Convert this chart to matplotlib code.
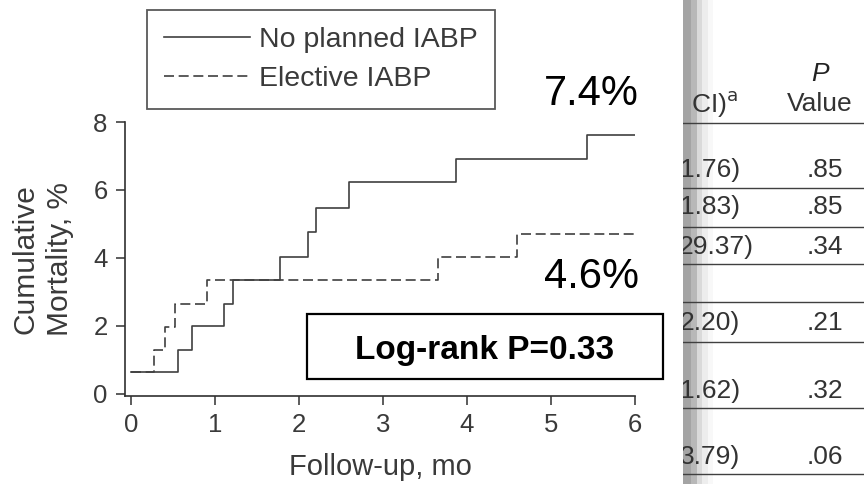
import matplotlib
matplotlib.use('Agg')
import matplotlib.pyplot as plt
from matplotlib.patches import Rectangle

plt.rcParams['font.family'] = ['Liberation Sans', 'DejaVu Sans']

# Kaplan-Meier style steps (months, cumulative mortality %)
no_iabp_t = [0, 0.56, 0.73, 1.11, 1.22, 1.77, 2.11, 2.20, 2.60, 3.87, 5.43, 6.0]
no_iabp_y = [0.64, 1.29, 2.00, 2.65, 3.35, 4.04, 4.76, 5.46, 6.23, 6.90, 7.62, 7.62]
elective_t = [0, 0.28, 0.41, 0.52, 0.91, 3.65, 4.59, 6.0]
elective_y = [0.64, 1.29, 1.98, 2.65, 3.35, 4.04, 4.71, 4.71]

x_ticks = [0, 1, 2, 3, 4, 5, 6]
y_ticks = [0, 2, 4, 6, 8]

# table fragment on the right
ci_ends = ['1.76)', '1.83)', '29.37)', '', '2.20)', '1.62)', '3.79)']
p_values = ['.85', '.85', '.34', '', '.21', '.32', '.06']
row_y = [170, 207, 247, 283, 323, 391, 457]
rule_y = [123, 188, 227, 264, 302, 342, 408, 474]
band_x = [683, 691, 697, 702, 708, 713]
band_colors = ['#a4a4a4', '#b8b8b8', '#dadada', '#ededed', '#f8f8f8']

W, H = 864, 484
fig = plt.figure(figsize=(W / 100, H / 100), dpi=100)

ax = fig.add_axes([125 / W, 1 - 396 / H, 510 / W, 274 / H])
line_c = '#404040'
ax.step(no_iabp_t, no_iabp_y, where='post', color=line_c, lw=1.2,
        label='No planned IABP')
ax.step(elective_t, elective_y, where='post', color=line_c, lw=1.2,
        linestyle=(0, (6, 2.8)), label='Elective IABP')

ax.set_xlim(-0.07, 6.0)
ax.set_ylim(-0.06, 8.0)
ax.set_xticks(x_ticks)
ax.set_yticks(y_ticks)
for s in ['top', 'right']:
    ax.spines[s].set_visible(False)
for s in ['left', 'bottom']:
    ax.spines[s].set_color('#303030')
    ax.spines[s].set_linewidth(1.2)
ax.tick_params(length=6.5, width=1.1, color='#303030', labelsize=18.5,
               labelcolor='#3a3a3a', pad=6)
ax.set_xlabel('Follow-up, mo', fontsize=21, color='#3a3a3a', labelpad=11)
ax.set_ylabel('Cumulative\nMortality, %', fontsize=21.5, color='#3a3a3a',
              labelpad=14, linespacing=1.3)

leg = ax.legend(loc='upper left', bbox_to_anchor=(147 / W, 1 - 10 / H),
                bbox_transform=fig.transFigure, borderaxespad=0,
                fontsize=20.5, frameon=True, fancybox=False,
                handlelength=3.0, handletextpad=0.35, labelspacing=0.45,
                borderpad=0.6)
leg.get_frame().set_edgecolor('#303030')
leg.get_frame().set_linewidth(1.3)
for t in leg.get_texts():
    t.set_color('#3a3a3a')

ax.text(6.05, 8.5, '7.4%', fontsize=30, ha='right', va='baseline',
        clip_on=False)
ax.text(6.05, 3.12, '4.6%', fontsize=30, ha='right', va='baseline',
        clip_on=False)

# log-rank box
fig.add_artist(Rectangle((307 / W, 1 - 379 / H), 356 / W, 65 / H,
                         transform=fig.transFigure, fill=False,
                         edgecolor='black', lw=1.6))
fig.text(485 / W, 1 - 359 / H, 'Log-rank P=0.33', fontsize=24,
         fontweight='bold', ha='center', va='baseline')

# table fragment
tx = fig.add_axes([683 / W, 0, (W - 683) / W, 1])
tx.set_xlim(683, W)
tx.set_ylim(H, 0)
tx.axis('off')
for i in range(len(band_colors)):
    tx.axvspan(band_x[i], band_x[i + 1], color=band_colors[i], lw=0)
for y in rule_y:
    tx.plot([683, W], [y, y], color='#404040', lw=1.0)
tx.text(738, 104, 'CI)$^{\\mathrm{a}}$', fontsize=19, ha='right',
        va='center', color='#333333', clip_on=True)
tx.text(820, 74, 'P', fontsize=19, style='italic', ha='center',
        va='center', color='#222222')
tx.text(820, 104, 'Value', fontsize=19, ha='center', va='center',
        color='#333333')
for ci, p, y in zip(ci_ends, p_values, row_y):
    tx.text(740 if len(ci) < 6 else 754, y, ci, fontsize=19, ha='right',
            va='center', color='#333333', clip_on=True)
    tx.text(825, y, p, fontsize=19, ha='center', va='center',
            color='#333333')

fig.savefig('out.png', dpi=100)
